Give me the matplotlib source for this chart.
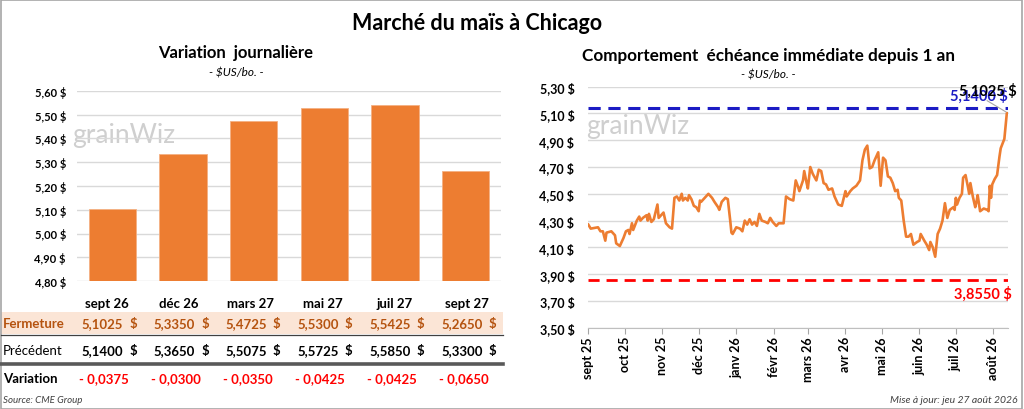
import matplotlib
matplotlib.use("Agg")
import matplotlib.pyplot as plt
import numpy as np
import pandas as pd

plt.rcParams['font.family'] = ['Lato', 'DejaVu Sans']

# --- left panel: forward curve ---
contracts = ['sept 26', 'déc 26', 'mars 27', 'mai 27', 'juil 27', 'sept 27']
closing = [5.1025, 5.3350, 5.4725, 5.5300, 5.5425, 5.2650]
previous = [5.1400, 5.3650, 5.5075, 5.5725, 5.5850, 5.3300]
change = [-0.0375, -0.0300, -0.0350, -0.0425, -0.0425, -0.0650]

# --- right panel: nearby contract, last 12 months ---
start_date = '2025-09-01'
days = [0, 2, 8, 10, 12, 14, 15, 19, 22, 23, 26, 29, 31, 33, 34, 36, 37, 40, 42, 43,
        45, 48, 49, 50, 52, 54, 57, 58, 62, 64, 67, 69, 71, 73, 75, 77, 78, 80, 82, 83,
        85, 87, 89, 91, 92, 93, 96, 99, 102, 104, 107, 108, 110, 113, 115, 117, 118, 119, 122, 125,
        127, 129, 131, 133, 135, 137, 139, 141, 143, 146, 148, 150, 152, 155, 157, 161, 163, 166, 169, 171,
        173, 174, 177, 178, 180, 181, 183, 185, 188, 190, 192, 194, 196, 198, 201, 203, 206, 209, 212, 213,
        216, 218, 221, 224, 226, 228, 230, 232, 234, 236, 239, 241, 243, 245, 247, 249, 251, 253, 255, 256,
        258, 260, 262, 264, 266, 268, 271, 273, 274, 277, 279, 281, 282, 284, 286, 288, 290, 292, 294, 296,
        298, 301, 302, 303, 304, 306, 308, 309, 311, 313, 314, 315, 317, 319, 320, 321, 323, 326, 329, 330,
        331, 332, 333, 335, 337, 339, 340, 343, 345, 346]
prices = [4.27, 4.24, 4.25, 4.22, 4.22, 4.15, 4.21, 4.22, 4.19, 4.13, 4.11, 4.17, 4.22, 4.23, 4.20, 4.28, 4.23, 4.30, 4.33, 4.30,
          4.32, 4.34, 4.30, 4.35, 4.29, 4.31, 4.42, 4.32, 4.36, 4.28, 4.25, 4.24, 4.47, 4.48, 4.45, 4.50, 4.45, 4.47, 4.45, 4.49,
          4.46, 4.41, 4.40, 4.37, 4.45, 4.44, 4.47, 4.50, 4.47, 4.44, 4.40, 4.38, 4.44, 4.47, 4.46, 4.30, 4.21, 4.20, 4.25, 4.24,
          4.22, 4.30, 4.27, 4.31, 4.27, 4.29, 4.26, 4.35, 4.30, 4.29, 4.28, 4.32, 4.29, 4.26, 4.28, 4.28, 4.48, 4.46, 4.45, 4.60,
          4.55, 4.52, 4.60, 4.67, 4.58, 4.54, 4.70, 4.65, 4.60, 4.68, 4.67, 4.58, 4.57, 4.53, 4.54, 4.48, 4.42, 4.41, 4.52, 4.48,
          4.52, 4.54, 4.56, 4.60, 4.75, 4.83, 4.86, 4.69, 4.70, 4.75, 4.81, 4.56, 4.77, 4.75, 4.63, 4.62, 4.58, 4.52, 4.53, 4.47,
          4.45, 4.30, 4.18, 4.18, 4.20, 4.12, 4.14, 4.15, 4.20, 4.15, 4.12, 4.08, 4.14, 4.10, 4.03, 4.20, 4.24, 4.30, 4.43, 4.32,
          4.38, 4.40, 4.38, 4.47, 4.42, 4.47, 4.50, 4.62, 4.64, 4.55, 4.50, 4.58, 4.48, 4.40, 4.44, 4.49, 4.37, 4.39, 4.38, 4.37,
          4.56, 4.47, 4.57, 4.61, 4.64, 4.78, 4.84, 4.91, 5.10, 5.1025]
high_12m = 5.1400
low_12m = 3.8550
month_labels = ['sept 25', 'oct 25', 'nov 25', 'déc 25', 'janv 26', 'févr 26',
                'mars 26', 'avr 26', 'mai 26', 'juin 26', 'juil 26', 'août 26']

ORANGE = '#ED7D31'
GRID = '#D9D9D9'
BLUE = '#1C1CC4'
W, H = 1024, 410


def fr(v, nd):
    return f"{v:.{nd}f}".replace('.', ',')


fig = plt.figure(figsize=(W / 100, H / 100), dpi=100)
fig.patches.append(plt.Rectangle((0.0005, 0.001), 0.998, 0.997, transform=fig.transFigure,
                                 fill=False, edgecolor='#A6A6A6', lw=1.2))

fig.text(477 / W, 1 - 24 / H, 'Marché du maïs à Chicago', ha='center', va='center',
         fontsize=15.5, fontweight='bold')

# ---------------- left panel ----------------
fig.text(236 / W, 1 - 53 / H, 'Variation  journalière', ha='center', va='center',
         fontsize=12, fontweight='bold')
fig.text(236 / W, 1 - 73 / H, '- $US/bo. -', ha='center', va='center',
         fontsize=8.5, style='italic')

ax1 = fig.add_axes([77 / W, 1 - 282 / H, 424 / W, 190 / H])
x = np.arange(len(contracts))
ax1.bar(x, closing, width=0.67, color=ORANGE, edgecolor='#F4B183', lw=0.6, zorder=3)
ax1.set_ylim(4.80, 5.60)
ax1.set_xlim(-0.5, len(contracts) - 0.5)
ticks1 = np.round(np.arange(4.80, 5.601, 0.10), 2)
ax1.set_yticks(ticks1)
ax1.set_yticklabels([fr(t, 2) + ' $' for t in ticks1], fontsize=8, fontweight='bold')
ax1.set_xticks([])
ax1.grid(axis='y', color=GRID, lw=1, zorder=0)
ax1.tick_params(axis='y', length=0, pad=8)
for s in ax1.spines.values():
    s.set_visible(False)
ax1.text(-0.012, 0.73, 'grainWiz', transform=ax1.transAxes, fontsize=19, color='#CFCFCF',
         ha='left', va='baseline', zorder=1)

# table under the bars (columns a bit wider than the bar slots)
col_x = [112 + 71.9 * i for i in range(len(contracts))]
fig.patches.append(plt.Rectangle((0.001, 1 - 335 / H), 502 / W, 22 / H, transform=fig.transFigure,
                                 facecolor='#FBE5D6', edgecolor='none', zorder=0))
fig.add_artist(plt.Line2D([0.001, 503 / W], [1 - 335.5 / H] * 2, color='#404040', lw=0.9))
fig.add_artist(plt.Line2D([0.001, 503 / W], [1 - 364.5 / H] * 2, color='#595959', lw=2.6))

BROWN = '#B5530F'
FS = 9.5
y_head, y_close, y_prev, y_var = 1 - 304 / H, 1 - 324 / H, 1 - 351 / H, 1 - 379 / H
fig.text(3 / W, y_close, 'Fermeture', fontsize=FS, fontweight='bold', color=BROWN, va='center')
fig.text(3 / W, y_prev, 'Précédent', fontsize=FS, va='center')
fig.text(3 / W, y_var, 'Variation', fontsize=FS, fontweight='bold', va='center')
for i, cx in enumerate(col_x):
    fig.text((cx - 5) / W, y_head, contracts[i], ha='center', va='center',
             fontsize=FS, fontweight='bold')
    fig.text((cx + 11) / W, y_close, fr(closing[i], 4), ha='right', va='center',
             fontsize=FS, fontweight='bold', color=BROWN)
    fig.text((cx + 21) / W, y_close, '$', ha='center', va='center',
             fontsize=FS, fontweight='bold', color=BROWN)
    fig.text((cx + 11) / W, y_prev, fr(previous[i], 4), ha='right', va='center',
             fontsize=FS, fontweight='bold')
    fig.text((cx + 21) / W, y_prev, '$', ha='center', va='center',
             fontsize=FS, fontweight='bold')
    fig.text((cx + 17) / W, y_var, '- ' + fr(abs(change[i]), 4), ha='right',
             va='center', fontsize=FS, fontweight='bold', color='#FF0000')
fig.text(3 / W, 1 - 401 / H, 'Source: CME Group', fontsize=7, style='italic',
         color='#404040', va='center')

# ---------------- right panel ----------------
fig.text(768 / W, 1 - 56 / H, 'Comportement  échéance immédiate depuis 1 an', ha='center',
         va='center', fontsize=12.3, fontweight='bold')
fig.text(768 / W, 1 - 75 / H, '- $US/bo. -', ha='center', va='center',
         fontsize=8.5, style='italic')

dates = pd.to_datetime(start_date) + pd.to_timedelta(days, unit='D')
ax2 = fig.add_axes([588.3 / W, 1 - 328.7 / H, (1008 - 588.3) / W, (328.7 - 87.7) / H])
ax2.plot(dates, prices, color=ORANGE, lw=1.9, zorder=4)
ax2.axhline(high_12m, color=BLUE, lw=2.2, ls=(0, (4, 2.5)), zorder=3)
ax2.axhline(low_12m, color='#FF0000', lw=2.0, ls=(0, (4, 2.5)), zorder=3)
ax2.set_xlim(dates[0], dates[-1])
ax2.set_ylim(3.50, 5.30)
ticks2 = np.round(np.arange(3.50, 5.301, 0.20), 2)
ax2.set_yticks(ticks2)
ax2.set_yticklabels([fr(t, 2) + ' $' for t in ticks2], fontsize=9, fontweight='bold')
month_ticks = pd.date_range(start_date, periods=len(month_labels), freq='MS')
ax2.set_xticks(month_ticks)
ax2.set_xticklabels(month_labels, rotation=90, fontsize=9, fontweight='bold')
ax2.grid(axis='y', color=GRID, lw=1, zorder=0)
ax2.tick_params(axis='y', length=0, pad=10)
ax2.tick_params(axis='x', length=4, color='#A6A6A6', pad=2)
for s in ['top', 'right', 'left']:
    ax2.spines[s].set_visible(False)
ax2.spines['bottom'].set_color('#BFBFBF')
ax2.text(-0.004, 0.807, 'grainWiz', transform=ax2.transAxes, fontsize=19, color='#CFCFCF',
         ha='left', va='baseline', zorder=1)

ax2.annotate(fr(high_12m, 4) + ' $', xy=(1.0, high_12m), xycoords=ax2.get_yaxis_transform(),
             xytext=(0, 4), textcoords='offset points', ha='right', va='bottom',
             fontsize=10.5, fontweight='bold', color=BLUE)
ax2.annotate(fr(low_12m, 4) + ' $', xy=(1.0, low_12m), xycoords=ax2.get_yaxis_transform(),
             xytext=(3, -4), textcoords='offset points', ha='right', va='top',
             fontsize=10.5, fontweight='bold', color='#FF0000')
# last close label overlaps the 12-month high label, as in the source chart
ax2.annotate(fr(prices[-1], 4) + ' $', xy=(dates[-1], prices[-1]), xytext=(6.5, 11),
             textcoords='offset points', ha='right', va='bottom', fontsize=10.5,
             fontweight='bold', annotation_clip=False,
             arrowprops=dict(arrowstyle='-', color='#A6A6A6', lw=0.8,
                             shrinkA=0, shrinkB=0, relpos=(0.4, 0)))

fig.text(1018 / W, 1 - 401 / H, 'Mise à jour: jeu 27 août 2026', ha='right', va='center',
         fontsize=7.5, style='italic', color='#404040')

fig.savefig('out.png', dpi=100)
